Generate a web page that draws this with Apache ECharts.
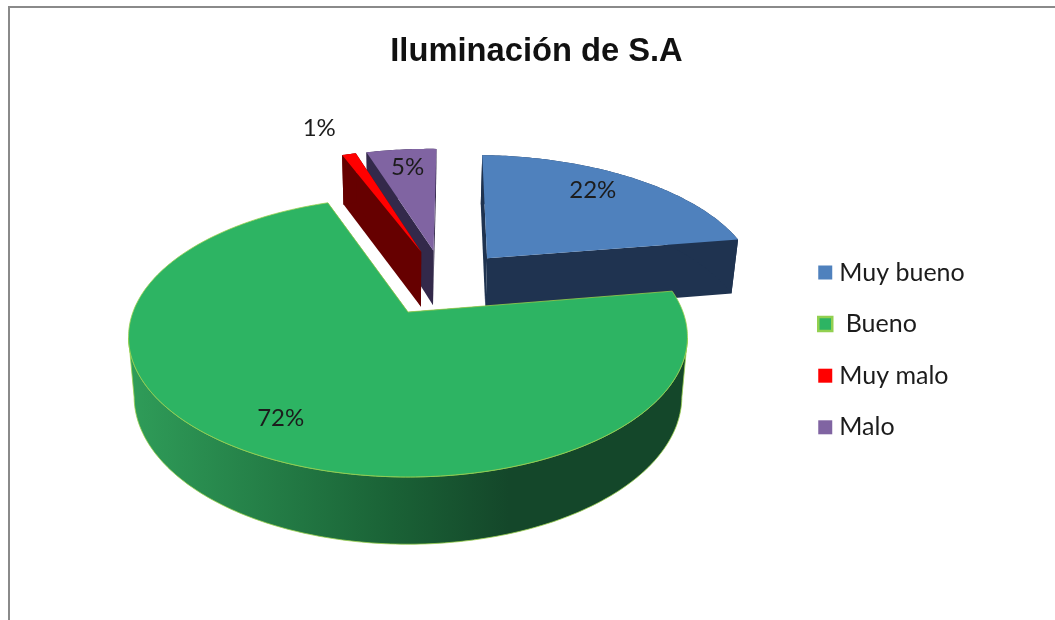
<!DOCTYPE html>
<html>
<head>
<meta charset="utf-8">
<style>html,body{margin:0;padding:0;background:#fff}#c{width:1055px;height:620px}</style>
<script src="https://cdn.jsdelivr.net/npm/echarts@6/dist/echarts.min.js"></script>
</head>
<body>
<div id="c"></div>
<script>
var titleText = 'Iluminación de S.A';
var categories = ['Muy bueno', ' Bueno', 'Muy malo', 'Malo'];
var values = [22, 72, 1, 5];
var topColors = ['#4f81bd', '#2db463', '#ff0000', '#8064a2'];
var sideColors = ['#1f3350', '#14472a', '#660000', '#33294a'];
var sliceRadius = [1.03, 1.0, 1.04, 1.04];
var labelRadius = [0.81, 0.8, 1.39, 0.83];
var labelTurn = [-4, 0, -2, 0.2];
var drawOrder = [0, 3, 2, 1];

// perspective projection of the pie's disc
var P = { cx: 408, cy: 312, A: 275, B: 135.6, k: 0.178, D: 58, bottomScale: 0.98, explode: 0.265, rotate: 1.7 * Math.PI / 180 };
var total = values.reduce(function (a, b) { return a + b; }, 0);
var centre = (function () {
  var mid = P.rotate + (values[0] + values[1] / 2) / total * 2 * Math.PI;
  return [-P.explode * Math.sin(mid), P.explode * Math.cos(mid)];
})();

function project(u, v, low) {
  var w = 1 - P.k * v, s = low ? P.bottomScale : 1, d = low ? P.D : 0;
  return [P.cx + s * P.A * u / w, P.cy + (s * P.B * v + d) / w];
}
function sliceGeom(idx) {
  var before = 0, i;
  for (i = 0; i < idx; i++) before += values[i];
  var a0 = P.rotate + before / total * 2 * Math.PI, a1 = P.rotate + (before + values[idx]) / total * 2 * Math.PI;
  var mid = (a0 + a1) / 2, R = sliceRadius[idx];
  var ox = centre[0] + P.explode * Math.sin(mid), oy = centre[1] - P.explode * Math.cos(mid);
  var arc = [], n = Math.max(3, Math.ceil((a1 - a0) / 0.015));
  for (i = 0; i <= n; i++) {
    var a = a0 + (a1 - a0) * i / n;
    arc.push([ox + R * Math.sin(a), oy - R * Math.cos(a)]);
  }
  return { apex: [ox, oy], arc: arc, mid: mid };
}
function pts(list, low) { return list.map(function (p) { return project(p[0], p[1], low); }); }

function renderSlice(idx) {
  return function () {
    var g = sliceGeom(idx), first = g.arc[0], last = g.arc[g.arc.length - 1];
    var isGreen = idx === 1;
    var edge = isGreen ? '#9ad04f' : 'none';
    var wallFill = isGreen ? {
      type: 'linear', x: 0, y: 0, x2: 1, y2: 0,
      colorStops: [
        { offset: 0, color: '#2f9d59' },
        { offset: 0.47, color: '#1a6236' },
        { offset: 0.68, color: '#14472a' },
        { offset: 1, color: '#14472a' }
      ]
    } : sideColors[idx];
    // outer wall: only the stretch between the silhouette's left and right extremes
    var tp = pts(g.arc, false), iMax = 0, iMin = 0;
    tp.forEach(function (p, i) {
      if (p[0] > tp[iMax][0]) iMax = i;
      if (p[0] < tp[iMin][0]) iMin = i;
    });
    var sub = g.arc.slice(Math.min(iMax, iMin), Math.max(iMax, iMin) + 1);
    var wall = pts(sub, false).concat(pts(sub, true).reverse());
    function face(p) { return pts([g.apex, p], false).concat(pts([p, g.apex], true)); }
    var children = [
      { type: 'polygon', shape: { points: face(first) }, style: { fill: sideColors[idx] } },
      { type: 'polygon', shape: { points: face(last) }, style: { fill: sideColors[idx] } },
      { type: 'polygon', shape: { points: wall }, style: { fill: wallFill, stroke: edge, lineWidth: 0.8 } },
      { type: 'polygon', shape: { points: pts([g.apex].concat(g.arc), false) },
        style: { fill: topColors[idx], stroke: edge, lineWidth: 0.8 } }
    ];
    var r = labelRadius[idx], la = g.mid + labelTurn[idx] * Math.PI / 180;
    var lp = project(g.apex[0] + r * Math.sin(la), g.apex[1] - r * Math.cos(la), false);
    children.push({
      type: 'text', x: lp[0], y: lp[1],
      style: {
        text: Math.round(values[idx] / total * 100) + '%',
        font: '24px Lato', fill: '#1c1c1c', align: 'center', verticalAlign: 'middle'
      }
    });
    return { type: 'group', children: children };
  };
}

var chart = echarts.init(document.getElementById('c'), null, { renderer: 'canvas' });
chart.setOption({
  animation: false,
  backgroundColor: '#ffffff',
  title: {
    text: titleText, left: 531.5, top: 30, textAlign: 'center',
    textStyle: { fontFamily: 'Liberation Sans', fontWeight: 'bold', fontSize: 32.7, color: '#111111' }
  },
  legend: {
    orient: 'vertical', left: 812, top: 253, itemWidth: 14, itemHeight: 14, itemGap: 22.6,
    selectedMode: false, icon: 'rect',
    textStyle: { fontFamily: 'Lato', fontSize: 25, color: '#1c1c1c', lineHeight: 29, padding: [0, 0, 0, 2] },
    data: categories.map(function (c, i) {
      return i === 1 ? { name: c, itemStyle: { borderColor: '#92d050', borderWidth: 2.5 } } : { name: c };
    })
  },
  graphic: [{
    type: 'rect', silent: true, shape: { x: 9, y: 7, width: 1200, height: 800 },
    style: { fill: 'none', stroke: '#8a8a8a', lineWidth: 2 }
  }],
  series: drawOrder.map(function (idx) {
    return {
      type: 'custom', name: categories[idx], coordinateSystem: 'none',
      itemStyle: { color: topColors[idx] }, silent: true,
      renderItem: renderSlice(idx), data: [values[idx]]
    };
  })
});
</script>
</body>
</html>
